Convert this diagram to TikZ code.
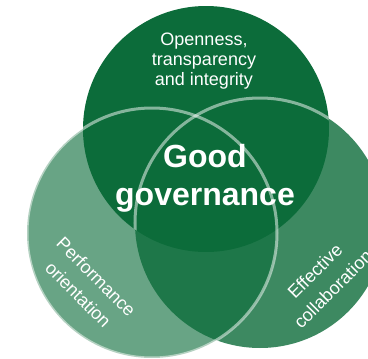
\documentclass[tikz,border=0pt]{standalone}
\usepackage{fontspec}
\setmainfont{Liberation Sans}
\definecolor{gg}{RGB}{12,108,58}
\begin{document}
\begin{tikzpicture}[x=1pt,y=-1pt,
  lbl/.style={text=white, inner sep=0pt, align=center, font=\fontsize{18}{20.3}\selectfont},
  rlbl/.style={text=white, inner sep=0pt, align=center, font=\fontsize{18}{25.5}\selectfont},
  big/.style={text=white, inner sep=0pt, align=center, font=\bfseries\fontsize{32}{37.5}\selectfont},
  ring/.style={draw=white, draw opacity=0.5, line width=3pt}]
\useasboundingbox (0,0) rectangle (368,359);
\clip (0,0) rectangle (368,359);
\fill[gg, fill opacity=0.8] (260,223) circle (125pt);
\fill[gg, fill opacity=0.62] (152,233) circle (125pt);
\fill[gg] (206,129) circle (123pt);
\begin{scope}
  \clip (206,129) circle (123pt);
  \draw[ring] (260,223) circle (125pt);
\end{scope}
\draw[ring] (152,233) circle (125pt);
\node[lbl] (top) at (204,61.2) {Openness,\\transparency\\and integrity};
\node[big] (gov) at (205,178.1) {Good\\governance};
\node[rlbl, rotate=-45] (perf) at (87.3,285.8) {Performance\\orientation};
\node[rlbl, rotate=45] (eff) at (323.8,280) {Effective\\collaboration};
\end{tikzpicture}
\end{document}
